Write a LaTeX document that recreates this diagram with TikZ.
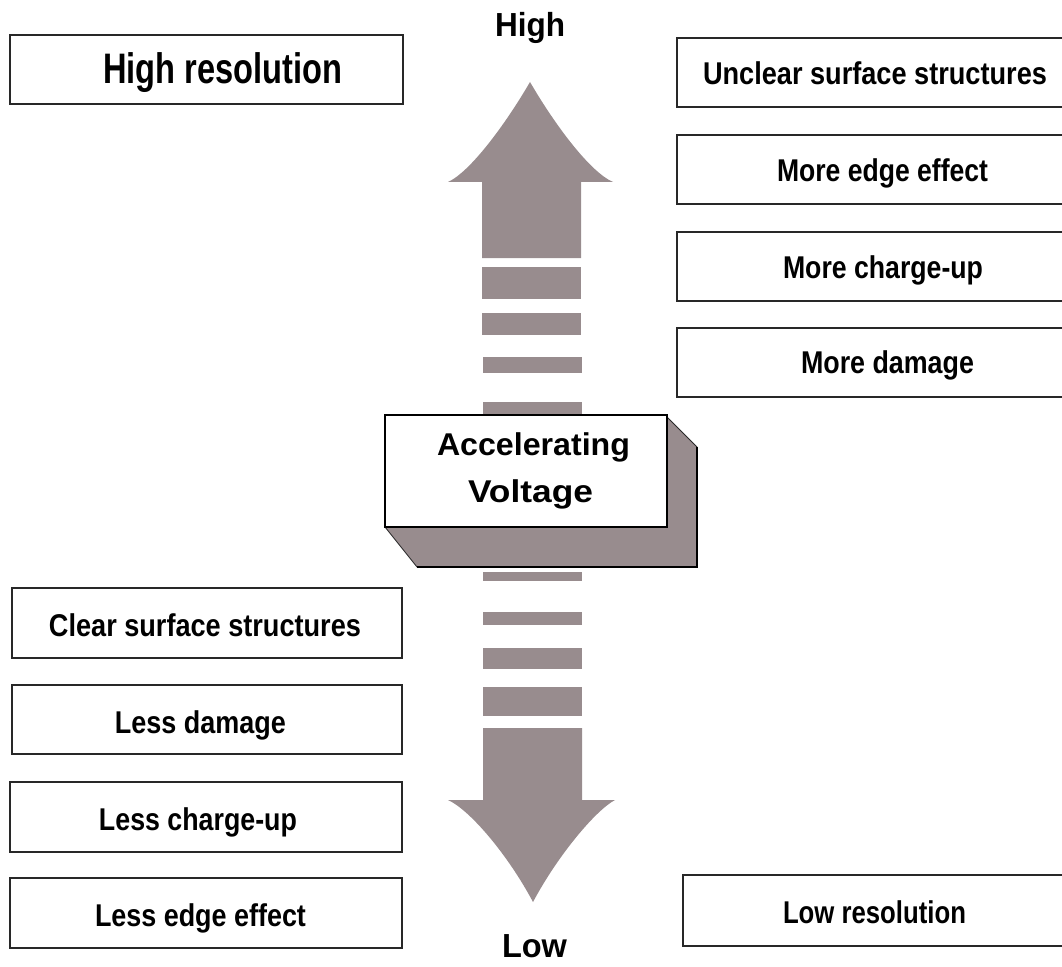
\documentclass[tikz,border=0pt]{standalone}
\usepackage{fontspec}
\setmainfont{Liberation Sans}
\usepackage{graphicx}
\newdimen\pxu \pxu=0.75pt
\newcommand{\fitw}[2]{\resizebox{#1\pxu}{\height}{#2}}
\definecolor{arrowgray}{RGB}{152,140,142}
\definecolor{boxline}{RGB}{40,40,40}
\begin{document}
\begin{tikzpicture}[x=0.75pt,y=-0.75pt,
  lbl/.style={anchor=base,inner sep=0pt,font=\bfseries\fontsize{23.6}{28}\selectfont},
  big/.style={anchor=base,inner sep=0pt,font=\bfseries\fontsize{25}{30}\selectfont},
  box/.style={draw=boxline,line width=1.6pt,fill=white},
  bar/.style={fill=arrowgray}]
\useasboundingbox (0,0) rectangle (1062,966);
\clip (0,0) rectangle (1062,966);

% upward arrow
\fill[bar] (482,258) -- (482,182) -- (448,182)
  .. controls (470,172) and (505,125) .. (530,82)
  .. controls (555,125) and (590,172) .. (613,182)
  -- (581,182) -- (581,258) -- cycle;
\fill[bar] (482,267) rectangle (581,299);
\fill[bar] (482,313) rectangle (581,335);
\fill[bar] (483,357) rectangle (582,373);
\fill[bar] (483,402) rectangle (582,416);

% downward arrow
\fill[bar] (483,572) rectangle (582,581);
\fill[bar] (483,612) rectangle (582,625);
\fill[bar] (483,648) rectangle (582,669);
\fill[bar] (483,687) rectangle (582,716);
\fill[bar] (483,728) -- (483,800) -- (448,800)
  .. controls (470,810) and (508,855) .. (533,902)
  .. controls (558,855) and (596,810) .. (615,800)
  -- (582,800) -- (582,728) -- cycle;

% 3D box
\fill[bar] (385,527) -- (417,567) -- (697,567) -- (697,447) -- (667,417) -- cycle;
\draw[boxline,line width=0.6pt] (385,527) -- (417,567);
\draw[boxline,line width=0.6pt] (667,417) -- (697,447);
\draw[black,line width=2pt] (417,567) -- (697,567) -- (697,447);
\draw[black,line width=2.2pt,fill=white] (385,415) rectangle (667,527);
\node[lbl] (acc) at (533.5,455) {\fitw{193}{Accelerating}};
\node[lbl] (volt) at (530.5,502) {\fitw{125}{Voltage}};

% High / Low labels
\node[big] (high) at (530,37) {\fitw{70}{High}};
\node[big] (low) at (534.5,957) {\fitw{65}{Low}};

% left boxes
\draw[box] (10,35) rectangle (403,104);
\node[anchor=base,inner sep=0pt,font=\bfseries\fontsize{32}{36}\selectfont] (hres) at (222.5,84) {\fitw{239}{High resolution}};

\draw[box] (12,588) rectangle (402,658);
\node[lbl] (l1) at (205,636) {\fitw{312}{Clear surface structures}};
\draw[box] (12,685) rectangle (402,754);
\node[lbl] (l2) at (200.5,733) {\fitw{171}{Less damage}};
\draw[box] (10,782) rectangle (402,852);
\node[lbl] (l3) at (198,830) {\fitw{198}{Less charge-up}};
\draw[box] (10,878) rectangle (402,948);
\node[lbl] (l4) at (200.5,926) {\fitw{211}{Less edge effect}};

% right boxes
\draw[box] (677,38) rectangle (1080,107);
\node[lbl] (r1) at (875,85) {\fitw{344}{Unclear surface structures}};
\draw[box] (677,135) rectangle (1080,204);
\node[lbl] (r2) at (882.5,182) {\fitw{211}{More edge effect}};
\draw[box] (677,232) rectangle (1080,301);
\node[lbl] (r3) at (883,278) {\fitw{200}{More charge-up}};
\draw[box] (677,328) rectangle (1080,397);
\node[lbl] (r4) at (887.5,373) {\fitw{173}{More damage}};

\draw[box] (683,875) rectangle (1080,946);
\node[lbl] (lres) at (874.5,923) {\fitw{183}{Low resolution}};
\end{tikzpicture}
\end{document}
